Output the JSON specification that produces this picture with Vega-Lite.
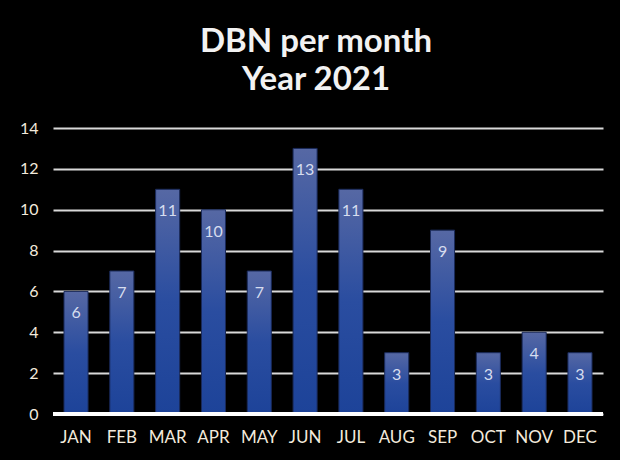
{
  "$schema": "https://vega.github.io/schema/vega-lite/v6.json",
  "width": 550,
  "height": 286,
  "autosize": {"type": "none"},
  "padding": {"left": 53, "top": 128, "right": 17, "bottom": 46},
  "background": "#000000",
  "title": {
    "text": ["DBN per month", "Year 2021"],
    "font": "Lato",
    "fontSize": 33,
    "fontWeight": "bold",
    "color": "#f2f2f2",
    "anchor": "middle",
    "dx": -12,
    "lineHeight": 38,
    "offset": 23
  },
  "data": {
    "values": [
      {"month": "JAN", "count": 6},
      {"month": "FEB", "count": 7},
      {"month": "MAR", "count": 11},
      {"month": "APR", "count": 10},
      {"month": "MAY", "count": 7},
      {"month": "JUN", "count": 13},
      {"month": "JUL", "count": 11},
      {"month": "AUG", "count": 3},
      {"month": "SEP", "count": 9},
      {"month": "OCT", "count": 3},
      {"month": "NOV", "count": 4},
      {"month": "DEC", "count": 3}
    ]
  },
  "encoding": {
    "x": {
      "field": "month",
      "type": "nominal",
      "sort": null,
      "scale": {"paddingInner": 0.475, "paddingOuter": 0.24},
      "axis": {
        "title": null,
        "labelAngle": 0,
        "domain": false,
        "ticks": false,
        "labelFont": "Lato",
        "labelFontSize": 17,
        "labelColor": "#f3eadc",
        "labelPadding": 15
      }
    },
    "y": {
      "field": "count",
      "type": "quantitative",
      "scale": {"domain": [0, 14]},
      "axis": {
        "title": null,
        "values": [0, 2, 4, 6, 8, 10, 12, 14],
        "domain": false,
        "ticks": false,
        "grid": true,
        "gridColor": "#d9d9d9",
        "gridWidth": 2,
        "gridOpacity": 1,
        "labelFont": "Lato",
        "labelFontSize": 16,
        "labelColor": "#f3eadc",
        "labelPadding": 15
      }
    }
  },
  "layer": [
    {
      "mark": {
        "type": "bar",
        "stroke": "#1a2a5a",
        "strokeWidth": 1,
        "color": {
          "gradient": "linear",
          "x1": 0, "y1": 0, "x2": 0, "y2": 1,
          "stops": [
            {"offset": 0, "color": "#5668a4"},
            {"offset": 0.5, "color": "#2a4da0"},
            {"offset": 1, "color": "#1d4399"}
          ]
        }
      }
    },
    {
      "mark": {"type": "rule", "color": "#ffffff", "strokeWidth": 3},
      "encoding": {"x": {"value": 0}, "x2": {"value": 550}, "y": {"datum": 0}}
    },
    {
      "mark": {
        "type": "text",
        "baseline": "middle",
        "dy": 22,
        "font": "Lato",
        "fontSize": 16,
        "color": "#d6ddef"
      },
      "encoding": {"text": {"field": "count", "type": "quantitative"}}
    }
  ],
  "config": {"view": {"stroke": null}}
}
